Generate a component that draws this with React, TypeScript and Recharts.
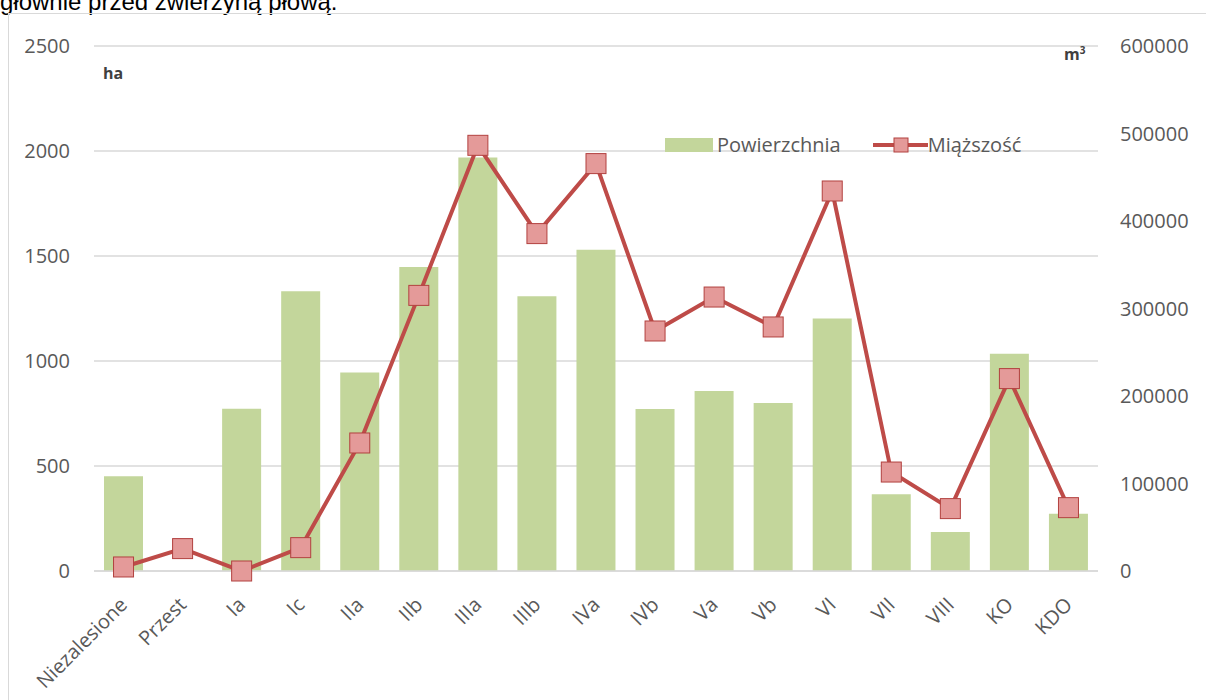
import React from "react";
import {
  ComposedChart,
  Bar,
  Line,
  XAxis,
  YAxis,
  CartesianGrid,
  Legend,
} from "recharts";

const categories = [
  "Niezalesione", "Przest", "Ia", "Ic", "IIa", "IIb", "IIIa", "IIIb", "IVa",
  "IVb", "Va", "Vb", "VI", "VII", "VIII", "KO", "KDO",
];
const powierzchnia = [451, 0, 773, 1332, 945, 1448, 1969, 1308, 1530, 771, 857, 800, 1202, 365, 186, 1035, 273];
const miazszosc = [4600, 25600, 0, 26700, 146300, 315000, 486500, 385600, 465600, 274300, 313100, 278900, 434300, 113100, 71300, 219900, 72400];
const leftTicks = [0, 500, 1000, 1500, 2000, 2500];
const rightTicks = [0, 100000, 200000, 300000, 400000, 500000, 600000];

const data = categories.map((name, i) => ({
  name,
  pow: powierzchnia[i],
  mia: miazszosc[i],
}));

const FONT = "'Open Sans', sans-serif";
const GREEN = "#c3d69b";
const RED = "#be4b48";
const PINK = "#e49a99";
const TXT = "#595959";

// square markers like the Excel original
const SquareDot = (props: any) => {
  const { cx, cy, index } = props;
  if (cx == null || cy == null) return null;
  return (
    <rect key={index} x={cx - 10} y={cy - 10} width={20} height={20} fill={PINK} stroke="#b2413f" strokeWidth={1} />
  );
};

const XTick = (props: any) => {
  const { x, y, payload } = props;
  const ax = x + 5;
  const ay = y + 35;
  return (
    <text
      x={ax}
      y={ay}
      transform={`rotate(-45, ${ax}, ${ay})`}
      textAnchor="end"
      fill={TXT}
      fontSize={20}
      fontFamily={FONT}
    >
      {payload.value}
    </text>
  );
};

const LegendBox = () => (
  <div style={{ display: "flex", alignItems: "center", fontFamily: FONT, fontSize: 20, color: TXT, whiteSpace: "nowrap" }}>
    <span style={{ display: "inline-block", width: 48, height: 14, background: GREEN, marginRight: 4 }} />
    <span>Powierzchnia</span>
    <svg width={55} height={20} style={{ marginLeft: 32 }}>
      <line x1={0} y1={10} x2={55} y2={10} stroke={RED} strokeWidth={4} />
      <rect x={21} y={3} width={14} height={14} fill={PINK} stroke="#b2413f" strokeWidth={1} />
    </svg>
    <span>Miąższość</span>
  </div>
);

export default function App() {
  return (
    <div style={{ position: "absolute", left: 0, top: 0, width: 1206, height: 700, overflow: "hidden", background: "#fff" }}>
      <div
        style={{
          position: "absolute",
          left: 0,
          top: -12,
          fontFamily: "'Liberation Sans', Arial, sans-serif",
          fontSize: 24,
          color: "#000",
          whiteSpace: "nowrap",
        }}
      >
        głównie przed zwierzyną płową.
      </div>
      <div
        style={{
          position: "absolute",
          left: 8,
          top: 13,
          width: 1220,
          height: 720,
          border: "1px solid #d9d9d9",
        }}
      />
      <div style={{ position: "absolute", left: 0, top: 0 }}>
        <ComposedChart
          width={1206}
          height={700}
          data={data}
          margin={{ top: 46, right: 0, bottom: 0, left: 0 }}
          barCategoryGap={0}
        >
          <CartesianGrid yAxisId="left" vertical={false} stroke="#d9d9d9" strokeWidth={1.5} />
          <XAxis
            dataKey="name"
            height={129}
            interval={0}
            axisLine={{ stroke: "#d9d9d9", strokeWidth: 1.5 }}
            tickLine={false}
            tickSize={0}
            tickMargin={0}
            tick={<XTick />}
          />
          <YAxis
            yAxisId="left"
            orientation="left"
            width={94}
            domain={[0, 2500]}
            ticks={leftTicks}
            axisLine={false}
            tickLine={false}
            tickSize={0}
            tickMargin={24}
            tick={{ fill: TXT, fontSize: 20, fontFamily: FONT }}
          />
          <YAxis
            yAxisId="right"
            orientation="right"
            width={108}
            domain={[0, 600000]}
            ticks={rightTicks}
            axisLine={false}
            tickLine={false}
            tickSize={0}
            tickMargin={22}
            tick={{ fill: TXT, fontSize: 20, fontFamily: FONT, textAnchor: "start" }}
          />
          <Legend
            layout="horizontal"
            verticalAlign="middle"
            align="center"
            content={<LegendBox />}
            wrapperStyle={{ position: "absolute", left: 665, top: 131, width: "auto" }}
          />
          <Bar
            yAxisId="left"
            dataKey="pow"
            name="Powierzchnia"
            fill={GREEN}
            barSize={39}
            isAnimationActive={false}
          />
          <Line
            yAxisId="right"
            dataKey="mia"
            name="Miąższość"
            stroke={RED}
            strokeWidth={4}
            dot={SquareDot}
            activeDot={false}
            isAnimationActive={false}
          />
        </ComposedChart>
      </div>
      <div style={{ position: "absolute", left: 103, top: 62, fontFamily: FONT, fontSize: 16, fontWeight: 700, color: "#404040" }}>
        ha
      </div>
      <div style={{ position: "absolute", left: 1064, top: 43, fontFamily: FONT, fontSize: 16, fontWeight: 700, color: "#404040" }}>
        m<sup style={{ fontSize: 10 }}>3</sup>
      </div>
    </div>
  );
}
